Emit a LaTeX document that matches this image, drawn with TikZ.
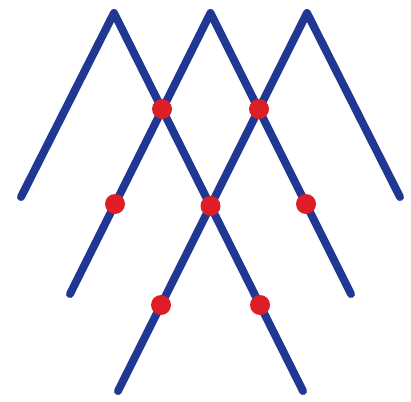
\documentclass[tikz,border=0pt]{standalone}
\usepackage{tikz}

\definecolor{lineblue}{RGB}{32,56,148}
\definecolor{dotred}{RGB}{222,30,38}

\begin{document}
\begin{tikzpicture}[x=1pt,y=-1pt,
  zigzag/.style={lineblue,line width=8pt,line cap=round,line join=round},
  crossdot/.style={dotred}]
  % Drawing coordinates in pixels, y pointing down.
  \useasboundingbox (0,0) rectangle (411,401);

  % peaks and free ends of the strokes
  \coordinate (pA) at (114,13);
  \coordinate (pB) at (210.5,13);
  \coordinate (pC) at (307,13);
  \coordinate (aL) at (21,197);
  \coordinate (aR) at (303,391);
  \coordinate (bL) at (70,294);
  \coordinate (bR) at (351,294);
  \coordinate (cL) at (118,391);
  \coordinate (cR) at (400,197);

  \draw[zigzag] (aL) -- (pA) -- (aR);
  \draw[zigzag] (bL) -- (pB) -- (bR);
  \draw[zigzag] (cL) -- (pC) -- (cR);

  % crossings
  \coordinate (x1) at (162,109);
  \coordinate (x2) at (259,109);
  \coordinate (x3) at (115,204);
  \coordinate (x4) at (210.5,206);
  \coordinate (x5) at (306,204);
  \coordinate (x6) at (161,305);
  \coordinate (x7) at (260,305);

  \foreach \p in {x1,x2,x3,x4,x5,x6,x7}
    \fill[crossdot] (\p) circle[radius=10pt];
\end{tikzpicture}
\end{document}
